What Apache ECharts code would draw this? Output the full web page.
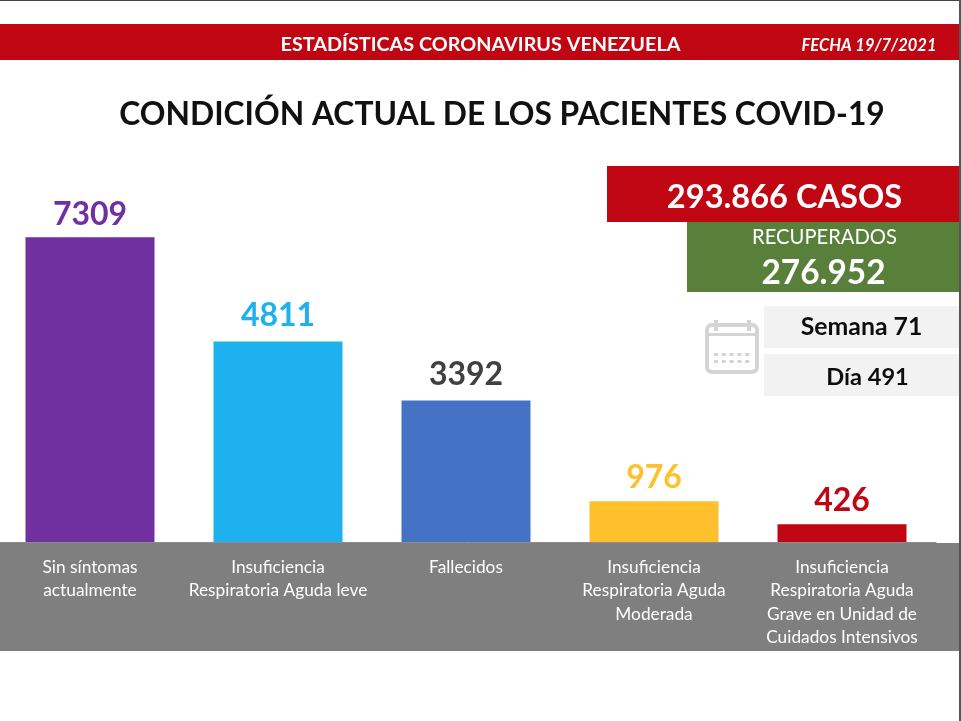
<!DOCTYPE html>
<html>
<head>
<meta charset="utf-8">
<style>
html, body { margin: 0; padding: 0; background: #fff; }
#main { width: 961px; height: 721px; }
</style>
<script src="https://cdn.jsdelivr.net/npm/echarts@6/dist/echarts.min.js"></script>
</head>
<body>
<div id="main"></div>
<script>
var categories = [
    'Sin síntomas\nactualmente',
    'Insuficiencia\nRespiratoria Aguda leve',
    'Fallecidos',
    'Insuficiencia\nRespiratoria Aguda\nModerada',
    'Insuficiencia\nRespiratoria Aguda\nGrave en Unidad de\nCuidados Intensivos'
];
var values = [7309, 4811, 3392, 976, 426];
var barColors = ['#7030a0', '#1fb0ef', '#4472c4', '#ffc02d', '#c00612'];
var labelColors = ['#7030a0', '#1fb0ef', '#404040', '#ffc02d', '#c00612'];
var labelGaps = [7, 10, 10, 8, 8];

var headerText = 'ESTADÍSTICAS CORONAVIRUS VENEZUELA';
var dateText = 'FECHA 19/7/2021';
var titleText = 'CONDICIÓN ACTUAL DE LOS PACIENTES COVID-19';
var casesText = '293.866 CASOS';
var recoveredLabel = 'RECUPERADOS';
var recoveredText = '276.952';
var weekText = 'Semana 71';
var dayText = 'Día 491';

var FONT = 'Lato, "Open Sans", sans-serif';
var RED = '#c00612';
var GREEN = '#58803a';
var ICON = '#d4d4d4';

function rect(x, y, w, h, fill, z) {
    return { type: 'rect', z: z || 0, shape: { x: x, y: y, width: w, height: h }, style: { fill: fill }, silent: true };
}
function text(str, x, y, size, fill, weight, align, style) {
    return {
        type: 'text', z: 10, x: x, y: y, silent: true,
        style: {
            text: str, fill: fill, font: (style || 'normal') + ' ' + weight + ' ' + size + 'px ' + FONT,
            textAlign: align || 'center', textVerticalAlign: 'middle'
        }
    };
}

// little calendar icon next to the week / day boxes
function calendarIcon() {
    var items = [
        { type: 'rect', z: 5, shape: { x: 707, y: 325, width: 50, height: 47, r: 5 }, style: { fill: 'none', stroke: ICON, lineWidth: 4 }, silent: true },
        rect(707, 333, 50, 3, ICON, 5),
        rect(714, 320, 4, 11, ICON, 5),
        rect(747, 320, 4, 11, ICON, 5)
    ];
    for (var r = 0; r < 2; r++) {
        for (var c = 0; c < 5; c++) {
            items.push(rect(714 + c * 7.8, 353 + r * 7, 4, 3, ICON, 5));
        }
    }
    return items;
}

var graphics = [
    rect(0, 0, 961, 1, '#444444'),
    rect(959, 0, 2, 721, '#555555', 20),
    rect(0, 24, 961, 36, RED),
    text(headerText, 480.5, 44.5, 19.8, '#ffffff', 700),
    text(dateText, 869, 46, 16.5, '#ffffff', 700, 'center', 'italic'),
    text(titleText, 502, 115, 31.8, '#111111', 700),
    rect(0, 543, 961, 108, '#7f7f7f'),
    rect(607, 166, 354, 56, RED),
    text(casesText, 784.5, 197, 32.6, '#ffffff', 700),
    rect(687, 222, 274, 70, GREEN),
    text(recoveredLabel, 824.5, 237, 20.2, '#ffffff', 400),
    text(recoveredText, 823.5, 273, 33.4, '#ffffff', 700),
    rect(764, 306, 197, 42, '#f2f2f2'),
    text(weekText, 861.5, 327, 24.8, '#0d0d0d', 700),
    rect(764, 354, 197, 42, '#f2f2f2'),
    text(dayText, 867.5, 377, 23.6, '#0d0d0d', 700)
].concat(calendarIcon());

var chart = echarts.init(document.getElementById('main'), null, { renderer: 'canvas' });
chart.setOption({
    animation: false,
    backgroundColor: '#ffffff',
    graphic: graphics,
    grid: { left: -4, right: 25, top: 208.4, bottom: 179, outerBoundsMode: 'none' },
    xAxis: {
        type: 'category',
        data: categories,
        z: 5,
        axisTick: { show: false },
        axisLine: { lineStyle: { color: '#8c8c8c', width: 1 } },
        axisLabel: {
            interval: 0,
            margin: 14,
            color: '#ffffff',
            fontFamily: FONT,
            fontSize: 17.3,
            lineHeight: 23.2,
            verticalAlign: 'top'
        }
    },
    yAxis: {
        type: 'value',
        min: 0,
        max: 8000,
        show: false
    },
    series: [{
        type: 'bar',
        barWidth: 129,
        z: 4,
        data: values.map(function (v, i) {
            return {
                value: v,
                itemStyle: { color: barColors[i] },
                label: { color: labelColors[i], distance: labelGaps[i] }
            };
        }),
        label: {
            show: true,
            position: 'top',
            fontFamily: FONT,
            fontWeight: 700,
            fontSize: 32
        }
    }]
});
</script>
</body>
</html>
